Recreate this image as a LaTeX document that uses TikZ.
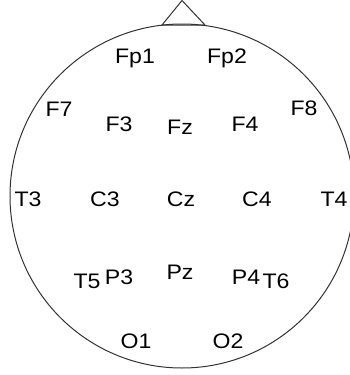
\documentclass[tikz,border=0pt]{standalone}
\usepackage{fontspec}
\setmainfont{Liberation Sans}[FakeStretch=1.1]
\begin{document}
\begin{tikzpicture}[x=1pt,y=-1pt,
  lbl/.style={anchor=base,inner sep=0pt,font=\fontsize{21}{21}\selectfont,text=black},
  head/.style={line width=1pt,draw=black!80}]
\useasboundingbox (0,0) rectangle (350,375);
\clip (0,0) rectangle (350,375);
\coordinate (ctr) at (182,196);
\draw[head] (ctr) circle[radius=172];
\coordinate (nl) at (162,25);
\coordinate (nr) at (205,25);
\coordinate (ntip) at (182,0.5);
\draw[head] (nl) -- (ntip) -- (nr) -- cycle;
\node[lbl] (Fp1) at (135,63) {Fp1};
\node[lbl] (Fp2) at (227,63) {Fp2};
\node[lbl] (F7) at (59,116) {F7};
\node[lbl] (F8) at (304,115) {F8};
\node[lbl] (F3) at (119,131) {F3};
\node[lbl] (Fz) at (180,134) {Fz};
\node[lbl] (F4) at (245,131) {F4};
\node[lbl] (T3) at (28,206) {T3};
\node[lbl] (C3) at (105,206) {C3};
\node[lbl] (Cz) at (181,206) {Cz};
\node[lbl] (C4) at (257,206) {C4};
\node[lbl] (T4) at (334,206) {T4};
\node[lbl] (T5) at (87,288) {T5};
\node[lbl] (P3) at (119,284) {P3};
\node[lbl] (Pz) at (180,279) {Pz};
\node[lbl] (P4) at (246,284) {P4};
\node[lbl] (T6) at (276,288) {T6};
\node[lbl] (O1) at (136,348) {O1};
\node[lbl] (O2) at (228,348) {O2};
\end{tikzpicture}
\end{document}
